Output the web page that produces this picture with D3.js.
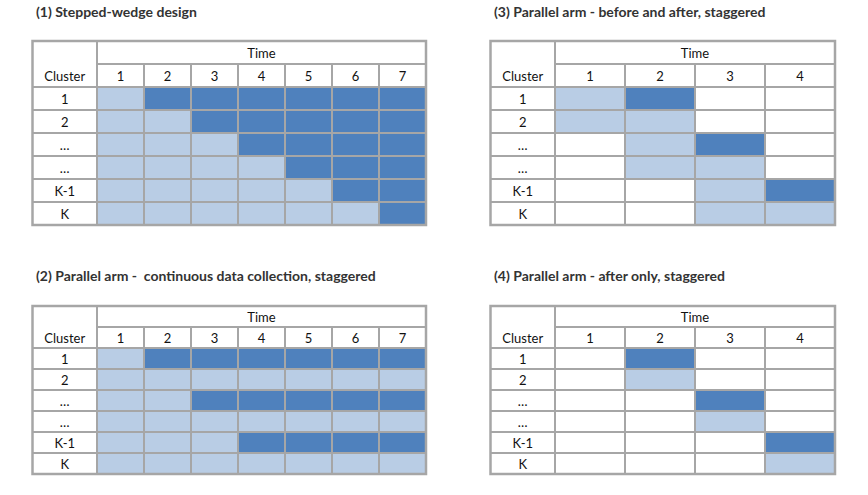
<!DOCTYPE html>
<html><head><meta charset="utf-8">
<script src="https://cdn.jsdelivr.net/npm/d3@7"></script>
<style>html,body{margin:0;padding:0;background:#fff;}svg{display:block;}text{white-space:pre;}</style>
</head><body>
<svg id="c" width="868" height="495"></svg>
<script>
// ---- data ----
const clusters = ["1", "2", "…", "…", "K-1", "K"];
const times7 = ["1", "2", "3", "4", "5", "6", "7"];
const times4 = ["1", "2", "3", "4"];
const titles = [
  "(1) Stepped-wedge design",
  "(2) Parallel arm -  continuous data collection, staggered",
  "(3) Parallel arm - before and after, staggered",
  "(4) Parallel arm - after only, staggered"
];
// 0 = no data, 1 = control (light), 2 = intervention (dark)
const design1 = [
  [1,2,2,2,2,2,2],
  [1,1,2,2,2,2,2],
  [1,1,1,2,2,2,2],
  [1,1,1,1,2,2,2],
  [1,1,1,1,1,2,2],
  [1,1,1,1,1,1,2]
];
const design2 = [
  [1,2,2,2,2,2,2],
  [1,1,1,1,1,1,1],
  [1,1,2,2,2,2,2],
  [1,1,1,1,1,1,1],
  [1,1,1,2,2,2,2],
  [1,1,1,1,1,1,1]
];
const design3 = [
  [1,2,0,0],
  [1,1,0,0],
  [0,1,2,0],
  [0,1,1,0],
  [0,0,1,2],
  [0,0,1,1]
];
const design4 = [
  [0,2,0,0],
  [0,1,0,0],
  [0,0,2,0],
  [0,0,1,0],
  [0,0,0,2],
  [0,0,0,1]
];

// ---- layout ----
const fill = ["#ffffff", "#b9cde5", "#4f81bd"];
const gridColor = "#a6a6a6";
const font = "Lato, 'Open Sans', sans-serif";
const svg = d3.select("#c");

const panels = [
  {title: titles[0], times: times7, data: design1, x0: 32.5, xc: 97, x1: 426, y0: 41, rh: 23, ty: 17},
  {title: titles[1], times: times7, data: design2, x0: 32.5, xc: 97, x1: 426, y0: 306, rh: 21, ty: 281},
  {title: titles[2], times: times4, data: design3, x0: 490.5, xc: 555, x1: 835, y0: 41, rh: 23, ty: 17},
  {title: titles[3], times: times4, data: design4, x0: 490.5, xc: 555, x1: 835, y0: 306, rh: 21, ty: 281}
];

panels.forEach(p => {
  const g = svg.append("g");
  const rowKeys = ["hdr", "time"].concat(clusters.map((c, i) => "r" + i));
  const y = d3.scaleBand().domain(rowKeys).range([p.y0, p.y0 + p.rh * rowKeys.length]).padding(0);
  const x = d3.scaleBand().domain(p.times).range([p.xc, p.x1]).padding(0);

  g.append("text").attr("x", p.x0 + 3.5).attr("y", p.ty)
    .attr("font-family", font).attr("font-weight", "bold").attr("font-size", 14)
    .attr("fill", "#333").text(p.title);

  // cells
  const cells = [];
  p.data.forEach((row, i) => row.forEach((v, j) => cells.push({r: "r" + i, c: p.times[j], v})));
  g.selectAll("rect.cell").data(cells).join("rect").attr("class", "cell")
    .attr("x", d => x(d.c)).attr("y", d => y(d.r))
    .attr("width", x.bandwidth()).attr("height", y.bandwidth())
    .attr("fill", d => fill[d.v]);

  // grid lines
  const lines = [];
  rowKeys.forEach((k, i) => {
    if (i === 0) return;
    lines.push({x1: i === 1 ? p.xc : p.x0, x2: p.x1, y1: y(k), y2: y(k)});
  });
  p.times.forEach((t, i) => {
    if (i === 0) return;
    lines.push({x1: x(t), x2: x(t), y1: y("time"), y2: y.range()[1]});
  });
  lines.push({x1: p.xc, x2: p.xc, y1: y.range()[0], y2: y.range()[1]});
  g.selectAll("line.grid").data(lines).join("line").attr("class", "grid")
    .attr("x1", d => d.x1).attr("x2", d => d.x2).attr("y1", d => d.y1).attr("y2", d => d.y2)
    .attr("stroke", gridColor).attr("stroke-width", 2);
  g.append("rect").attr("x", p.x0).attr("y", y.range()[0])
    .attr("width", p.x1 - p.x0).attr("height", y.range()[1] - y.range()[0])
    .attr("fill", "none").attr("stroke", gridColor).attr("stroke-width", 2.5);

  const txt = (tx, ty, s) => g.append("text").attr("x", tx).attr("y", ty)
    .attr("text-anchor", "middle").attr("dy", "0.45em")
    .attr("font-family", font).attr("font-size", 13).attr("fill", "#111").text(s);

  txt((p.xc + p.x1) / 2, y("hdr") + y.bandwidth() / 2, "Time");
  txt((p.x0 + p.xc) / 2, y("time") + y.bandwidth() / 2, "Cluster");
  p.times.forEach(t => txt(x(t) + x.bandwidth() / 2, y("time") + y.bandwidth() / 2, t));
  clusters.forEach((c, i) => txt((p.x0 + p.xc) / 2, y("r" + i) + y.bandwidth() / 2, c));
});
</script>
</body></html>
